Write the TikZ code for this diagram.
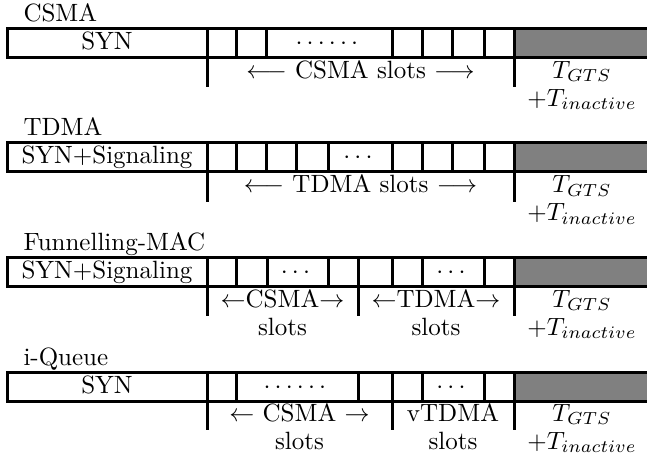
\documentclass[tikz,border=0pt]{standalone}
\usepackage{amsmath}
\usepackage{amssymb}
\usetikzlibrary{calc}
\tikzstyle{every path}=[line width=1.2pt]
\tikzstyle{txt}=[anchor=base, inner sep=0pt]
\tikzstyle{title}=[anchor=base west, inner sep=0pt]
\tikzstyle{idle}=[fill=gray]

\begin{document}
\begin{tikzpicture}[x=0.4pt, y=-0.4pt]
        \useasboundingbox (0,0) rectangle (647,455);
        %CSMA
        \node[title] (csma) at (22,21) {CSMA};
        \fill[idle] (514,28) rectangle (650,57);
        \draw (650,28) -- (7,28) -- (7,57) -- (650,57);
        \foreach \x in {207,236,266,392,422,452,484,514} \draw (\x,28) -- (\x,57);
        \draw (207,57) -- (207,87);
        \draw (514,57) -- (514,87);
        \node[txt] (csmasyn) at (107,49) {SYN};
        \node[txt] (csmadots) at (329,49) {$\cdots\cdots$};
        \node[txt] (csmaslots) at (360.5,78) {$\longleftarrow$ CSMA slots $\longrightarrow$};
        \node[txt] (csmagts) at (582,78) {$T_{GTS}$};
        \node[txt] (csmainact) at (582,106) {$+T_{inactive}$};
        %TDMA
        \node[title] (tdma) at (22,135.5) {TDMA};
        \fill[idle] (514,142.5) rectangle (650,171.5);
        \draw (650,142.5) -- (7,142.5) -- (7,171.5) -- (650,171.5);
        \foreach \x in {207,236,266,296,328,392,422,452,484,514} \draw (\x,142.5) -- (\x,171.5);
        \draw (207,171.5) -- (207,201.5);
        \draw (514,171.5) -- (514,201.5);
        \node[txt] (tdmasyn) at (107,163.5) {SYN+Signaling};
        \node[txt] (tdmadots) at (360,163.5) {$\cdots$};
        \node[txt] (tdmaslots) at (360.5,192.5) {$\longleftarrow$ TDMA slots $\longrightarrow$};
        \node[txt] (tdmagts) at (582,192.5) {$T_{GTS}$};
        \node[txt] (tdmainact) at (582,220.5) {$+T_{inactive}$};
        %Funnelling-MAC
        \node[title] (fmac) at (22,250) {Funnelling-MAC};
        \fill[idle] (514,257) rectangle (650,286);
        \draw (650,257) -- (7,257) -- (7,286) -- (650,286);
        \foreach \x in {207,236,267,328,358,392,422,484,514} \draw (\x,257) -- (\x,286);
        \draw (207,286) -- (207,316);
        \draw (358,286) -- (358,316);
        \draw (514,286) -- (514,316);
        \node[txt] (fmacsyn) at (107,278) {SYN+Signaling};
        \node[txt] (fmacdotsa) at (297.5,278) {$\cdots$};
        \node[txt] (fmacdotsb) at (453,278) {$\cdots$};
        \node[txt] (fmaccsma) at (282.5,307) {$\leftarrow$CSMA$\rightarrow$};
        \node[txt] (fmaccslots) at (282.5,335) {slots};
        \node[txt] (fmactdma) at (436,307) {$\leftarrow$TDMA$\rightarrow$};
        \node[txt] (fmactslots) at (436,335) {slots};
        \node[txt] (fmacgts) at (582,307) {$T_{GTS}$};
        \node[txt] (fmacinact) at (582,335) {$+T_{inactive}$};
        %i-Queue
        \node[title] (iq) at (22,365) {i-Queue};
        \fill[idle] (514,372) rectangle (650,401);
        \draw (650,372) -- (7,372) -- (7,401) -- (650,401);
        \foreach \x in {207,236,358,392,422,484,514} \draw (\x,372) -- (\x,401);
        \draw (207,401) -- (207,430);
        \draw (392,401) -- (392,430);
        \draw (514,401) -- (514,430);
        \node[txt] (iqsyn) at (107,393) {SYN};
        \node[txt] (iqdotsa) at (297,393) {$\cdots\cdots$};
        \node[txt] (iqdotsb) at (453,393) {$\cdots$};
        \node[txt] (iqcsma) at (299.5,421) {$\leftarrow$ CSMA $\rightarrow$};
        \node[txt] (iqcslots) at (299.5,449) {slots};
        \node[txt] (iqvtdma) at (453,421) {vTDMA};
        \node[txt] (iqvslots) at (453,449) {slots};
        \node[txt] (iqgts) at (582,421) {$T_{GTS}$};
        \node[txt] (iqinact) at (582,449) {$+T_{inactive}$};
\end{tikzpicture}
\end{document}
